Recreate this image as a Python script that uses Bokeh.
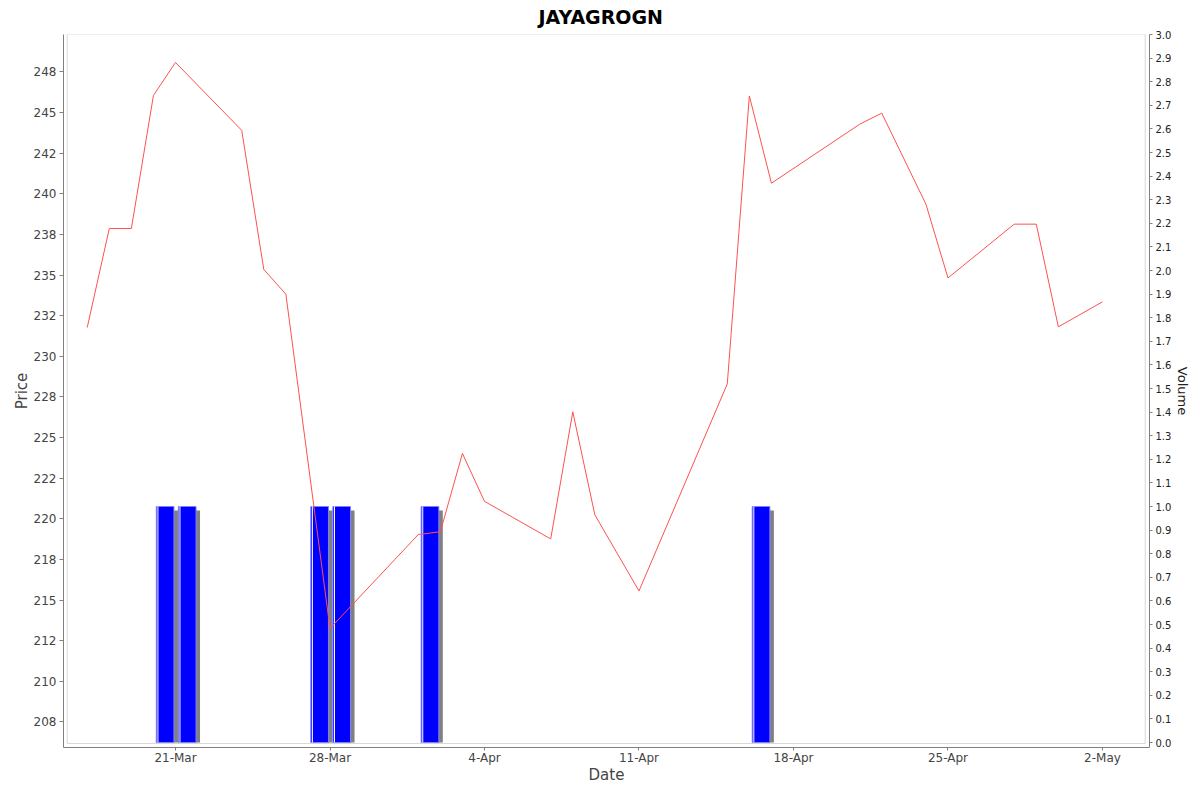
from datetime import datetime
import pandas as pd
from bokeh.plotting import figure
from bokeh.models import (Range1d, LinearAxis, FixedTicker, BoxAnnotation,
                          ColumnDataSource, PrintfTickFormatter)
from bokeh.embed import file_html
from bokeh.resources import INLINE

# ---------------- data ----------------
dates = ["2022-03-17", "2022-03-18", "2022-03-19", "2022-03-20", "2022-03-21",
         "2022-03-24", "2022-03-25", "2022-03-26", "2022-03-28", "2022-04-01",
         "2022-04-02", "2022-04-03", "2022-04-04", "2022-04-07", "2022-04-08",
         "2022-04-09", "2022-04-11", "2022-04-15", "2022-04-16", "2022-04-17",
         "2022-04-21", "2022-04-22", "2022-04-24", "2022-04-25", "2022-04-28",
         "2022-04-29", "2022-04-30", "2022-05-02"]
prices = [231.77, 237.86, 237.86, 246.05, 248.08,
          243.9, 235.34, 233.82, 213.25, 219.03,
          219.2, 224.02, 221.07, 218.76, 226.58,
          220.24, 215.56, 228.3, 246.02, 240.65,
          244.28, 244.96, 239.36, 234.82, 238.13,
          238.13, 231.81, 233.35]

vol_dates = ["2022-03-20", "2022-03-21", "2022-03-27", "2022-03-28",
             "2022-04-01", "2022-04-16"]
volumes = [1.0, 1.0, 1.0, 1.0, 1.0, 1.0]

price_ticks = [207.5, 210.0, 212.5, 215.0, 217.5, 220.0, 222.5, 225.0, 227.5,
               230.0, 232.5, 235.0, 237.5, 240.0, 242.5, 245.0, 247.5]
price_tick_labels = ["208", "210", "212", "215", "218", "220", "222", "225", "228",
                     "230", "232", "235", "238", "240", "242", "245", "248"]

date_ticks = ["2022-03-21", "2022-03-28", "2022-04-04", "2022-04-11",
              "2022-04-18", "2022-04-25", "2022-05-02"]
date_tick_labels = ["21-Mar", "28-Mar", "4-Apr", "11-Apr", "18-Apr", "25-Apr", "2-May"]

vol_ticks = [0.0, 0.1, 0.2, 0.3, 0.4, 0.5, 0.6, 0.7, 0.8, 0.9, 1.0,
             1.1, 1.2, 1.3, 1.4, 1.5, 1.6, 1.7, 1.8, 1.9, 2.0,
             2.1, 2.2, 2.3, 2.4, 2.5, 2.6, 2.7, 2.8, 2.9, 3.0]

# ---------------- layout helpers ----------------
DAY = pd.Timedelta(days=1)
anchor = pd.Timestamp("2022-03-21")
x_start = anchor - 5.075 * DAY
x_end = anchor + 44.13 * DAY
px_day = 22.07
px_vol = 236.0
px_price = 16.25
PRICE_LO, PRICE_HI = 205.925, 249.80

def ms(t):
    return pd.Timestamp(t).value / 1e6

p = figure(width=1200, height=792, x_axis_type="datetime",
           output_backend="svg", toolbar_location=None,
           x_range=Range1d(ms(x_start), ms(x_end)),
           y_range=Range1d(PRICE_LO, PRICE_HI),
           min_border_left=63, min_border_right=51,
           min_border_top=34, min_border_bottom=45)
p.extra_y_ranges = {"vol": Range1d(-0.0211, 3.0)}

p.background_fill_color = "white"
p.border_fill_color = "white"
p.outline_line_color = None
p.xgrid.grid_line_color = None
p.ygrid.grid_line_color = None

# title
p.title.text = "JAYAGROGN"
p.title.text_font = "DejaVu Sans"
p.title.text_font_size = "19px"
p.title.text_font_style = "bold"
p.title.text_color = "#000000"
p.title.align = "left"
p.title.offset = 475
p.title.standoff = 9
p.title.vertical_align = "top"

# volume bars
vd = pd.to_datetime(vol_dates)
bar_left = vd + 0.13 * DAY
bar_right = vd + 0.93 * DAY
shadow_dx = (4.0 / px_day) * DAY
shadow_dy = 4.0 / px_vol
bars = ColumnDataSource(dict(
    left=bar_left, right=bar_right,
    sleft=bar_left + shadow_dx, sright=bar_right + shadow_dx,
    top=volumes, stop=[v - shadow_dy for v in volumes],
    gap=bar_left + (1.6 / px_day) * DAY,
    bottom=[0.0] * len(volumes)))
p.quad(left="sleft", right="sright", top="stop", bottom="bottom", source=bars,
       y_range_name="vol", fill_color="#808080", line_color=None)
p.quad(left="left", right="right", top="top", bottom="bottom", source=bars,
       y_range_name="vol", fill_color="#0000ff", line_color="#8080ff", line_width=1)
p.segment(x0="gap", x1="gap", y0="bottom", y1="top", source=bars,
          y_range_name="vol", line_color="white", line_width=1)

# price line
p.line(x=pd.to_datetime(dates), y=prices, line_color="#ff5050", line_width=1)

# inner plot outline (JFreeChart style, axes offset from plot area)
inner = BoxAnnotation(left=ms(x_start + (3.7 / px_day) * DAY),
                      right=ms(x_end - (4.3 / px_day) * DAY),
                      bottom=PRICE_LO + 4.0 / px_price, top=PRICE_HI,
                      fill_color=None, line_color="#808080", line_width=1)
p.add_layout(inner)

AX = "#808080"
LBL = "#444444"

# x axis
xa = p.xaxis[0]
xa.ticker = FixedTicker(ticks=[ms(d) for d in date_ticks])
xa.major_label_overrides = {ms(d): l for d, l in zip(date_ticks, date_tick_labels)}
xa.axis_label = "Date"

# left axis
ya = p.yaxis[0]
ya.ticker = FixedTicker(ticks=price_ticks)
ya.major_label_overrides = {t: l for t, l in zip(price_ticks, price_tick_labels)}
ya.axis_label = "Price"

for ax in (xa, ya):
    ax.axis_line_color = AX
    ax.major_tick_line_color = AX
    ax.major_tick_out = 4
    ax.major_tick_in = 0
    ax.minor_tick_line_color = None
    ax.major_label_text_font = "DejaVu Sans"
    ax.major_label_text_font_size = "12px"
    ax.major_label_text_color = LBL
    ax.major_label_standoff = 3
    ax.axis_label_text_font = "DejaVu Sans"
    ax.axis_label_text_font_size = "15px"
    ax.axis_label_text_font_style = "normal"
    ax.axis_label_text_color = LBL
xa.major_tick_out = 3
xa.major_label_standoff = 0
xa.axis_label_standoff = -2
ya.axis_label_standoff = 0

# right axis (volume)
ra = LinearAxis(y_range_name="vol", ticker=FixedTicker(ticks=vol_ticks),
                formatter=PrintfTickFormatter(format="%.1f"), axis_label="Volume")
ra.axis_line_color = AX
ra.major_tick_line_color = AX
ra.major_tick_out = 3
ra.major_tick_in = 0
ra.minor_tick_line_color = None
ra.major_label_text_font = "DejaVu Sans"
ra.major_label_text_font_size = "10px"
ra.major_label_text_color = "#222222"
ra.major_label_standoff = 3
ra.axis_label_text_font = "DejaVu Sans"
ra.axis_label_text_font_size = "13px"
ra.axis_label_text_font_style = "normal"
ra.axis_label_text_color = "#222222"
ra.axis_label_standoff = 1
p.add_layout(ra, "right")

open("out.html", "w").write(file_html(p, INLINE))
